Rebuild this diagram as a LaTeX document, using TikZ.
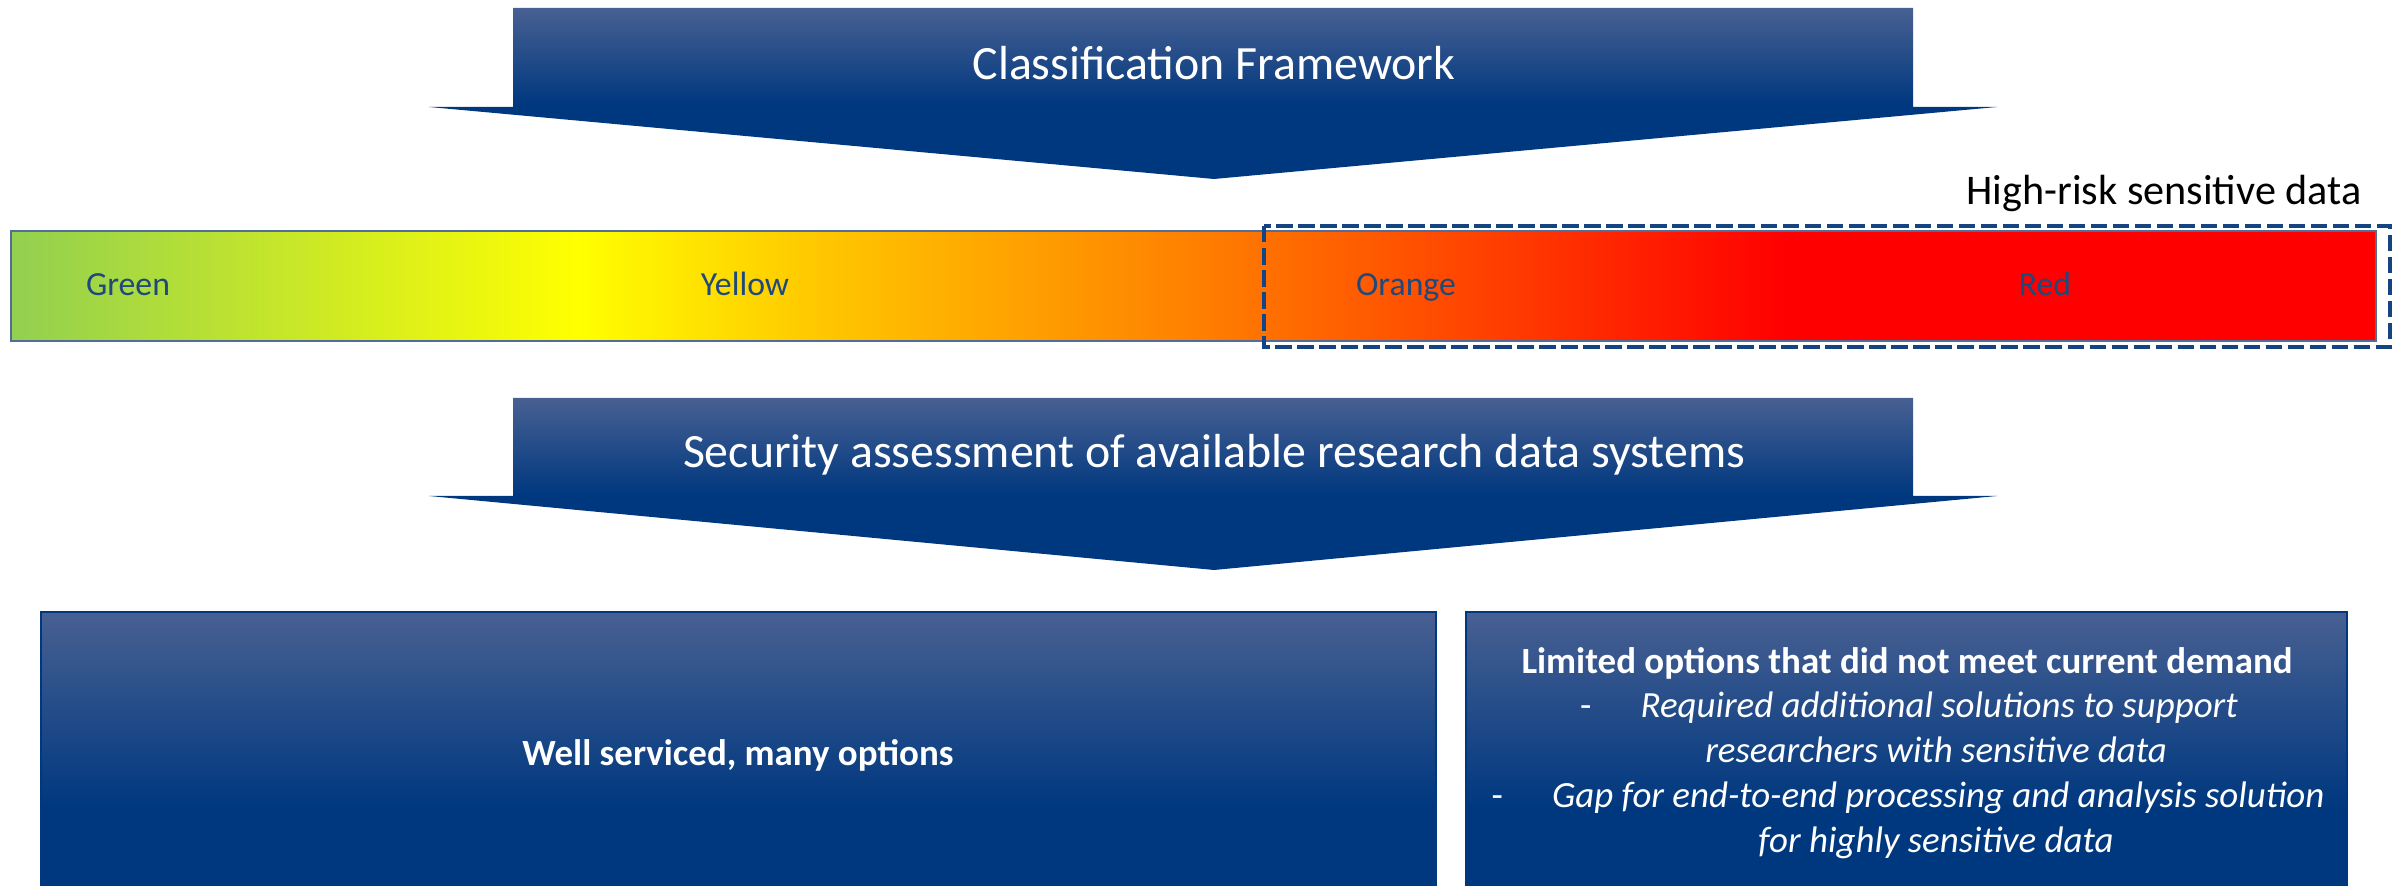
\documentclass[tikz,border=0pt]{standalone}
\usepackage{fontspec}
\setmainfont{Carlito}
\definecolor{navytop}{RGB}{72,96,146}
\definecolor{navybot}{RGB}{0,56,127}
\definecolor{cgreen}{RGB}{146,208,80}
\definecolor{cyellow}{RGB}{255,255,0}
\definecolor{cgold}{RGB}{255,200,0}
\definecolor{corange}{RGB}{255,128,0}
\definecolor{cred}{RGB}{255,0,0}
\definecolor{labelblue}{RGB}{31,73,125}
\definecolor{dashblue}{RGB}{20,68,130}
\definecolor{barline}{RGB}{80,110,150}
\pgfdeclareverticalshading{arrowshade}{100bp}{color(0bp)=(navybot); color(25bp)=(navybot); color(47bp)=(navybot); color(75bp)=(navytop); color(100bp)=(navytop)}
\pgfdeclareverticalshading{boxshade}{100bp}{color(0bp)=(navybot); color(25bp)=(navybot); color(40bp)=(navybot); color(75bp)=(navytop); color(100bp)=(navytop)}
\pgfdeclarehorizontalshading{riskshade}{100bp}{color(0bp)=(cgreen); color(25bp)=(cgreen); color(37bp)=(cyellow); color(42bp)=(cgold); color(50bp)=(corange); color(62.5bp)=(cred); color(100bp)=(cred)}
\tikzset{
  arrowtext/.style={anchor=base, text=white, font=\fontsize{13.6}{16}\selectfont, inner sep=0pt},
  barlabel/.style={anchor=base, text=labelblue, font=\fontsize{9.6}{11}\selectfont, inner sep=0pt},
  boxline/.style={anchor=base, text=white, font=\fontsize{10.5}{12.75}\selectfont, inner sep=0pt},
  riskbox/.style={draw=dashblue, line width=1.3pt, dash pattern=on 0.165cm off 0.055cm},
  navybox/.style={shading=boxshade, draw=navybot, line width=0.4pt},
}
\begin{document}
\begin{tikzpicture}[x=0.01cm,y=-0.01cm]
\useasboundingbox (0,0) rectangle (2400,886);
% arrow 1
\shade[shading=arrowshade] (513,8) -- (1913,8) -- (1913,107) -- (1997,107) -- (1214,179) -- (429,107) -- (513,107) -- cycle;
\node[arrowtext] (cf) at (1214,80) {Classification Framework};
% colour bar
\shade[shading=riskshade, draw=barline, line width=0.5pt] (11,231) rectangle (2376,341);
\node[barlabel] (green) at (128,296) {Green};
\node[barlabel] (yellow) at (745,296) {Yellow};
\node[barlabel] (orange) at (1406,296) {Orange};
\node[barlabel] (red) at (2045,296) {Red};
\draw[riskbox] (1264,226) rectangle (2390,347);
\node[anchor=base, inner sep=0pt, font=\fontsize{12}{14}\selectfont] (hr) at (2164,205) {High-risk sensitive data};
% arrow 2
\shade[shading=arrowshade] (513,398) -- (1913,398) -- (1913,496) -- (1997,496) -- (1214,570) -- (429,496) -- (513,496) -- cycle;
\node[arrowtext] (sa) at (1214,468) {Security assessment of available research data systems};
% bottom boxes
\shade[navybox] (41,612) rectangle (1436,890);
\node[boxline] (well) at (738,766) {\textbf{Well serviced, many options}};
\shade[navybox] (1466,612) rectangle (2347,890);
\node[boxline] (l1) at (1907,674) {\textbf{Limited options that did not meet current demand}};
\node[boxline] (l2) at (1909,718) {-\hspace{14pt}\textit{Required additional solutions to support}};
\node[boxline] (l3) at (1936,763) {\textit{researchers with sensitive data}};
\node[boxline] (l4) at (1908,808) {-\hspace{14pt}\textit{Gap for end-to-end processing and analysis solution}};
\node[boxline] (l5) at (1936,853) {\textit{for highly sensitive data}};
\end{tikzpicture}
\end{document}
